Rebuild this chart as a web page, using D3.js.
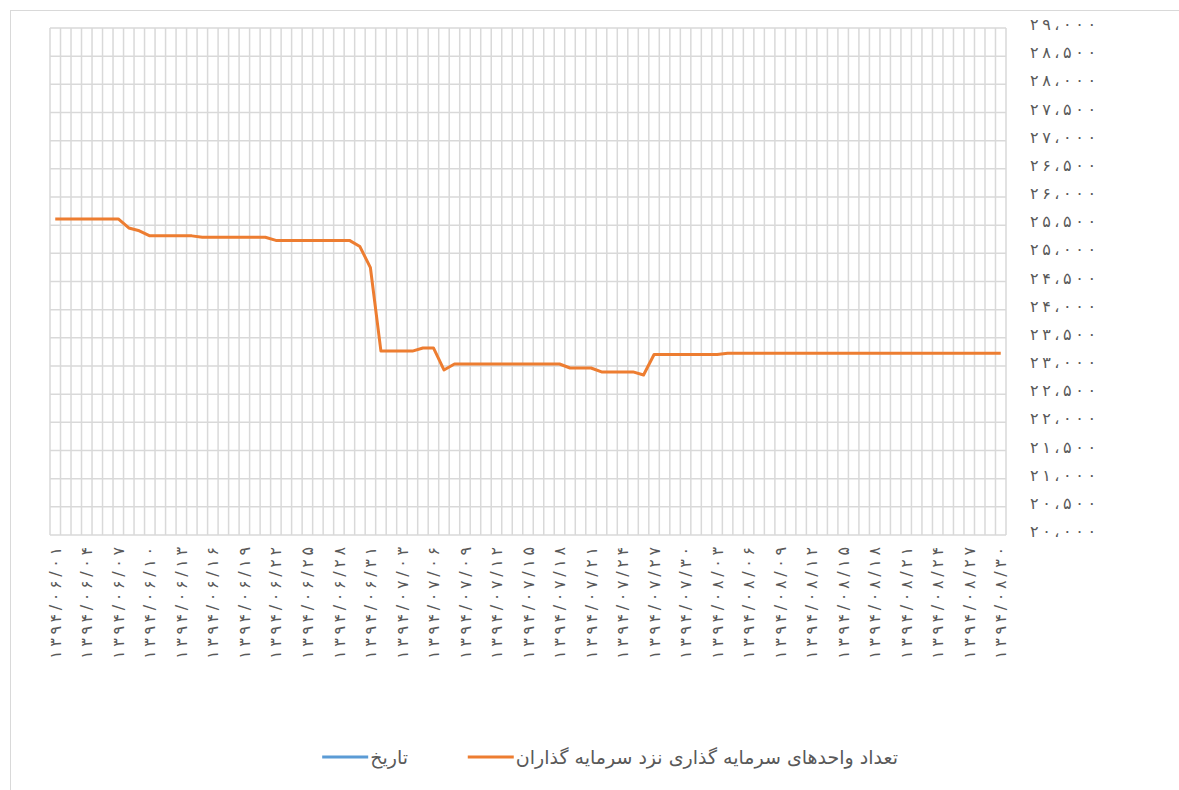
<!DOCTYPE html>
<html>
<head>
<meta charset="utf-8">
<script src="https://cdn.jsdelivr.net/npm/d3@7"></script>
<style>
  body { margin: 0; background: #fff; }
  text { font-family: "DejaVu Sans", sans-serif; }
</style>
</head>
<body>
<svg id="chart"></svg>
<script>
// categories (one per day, 1394/06/01 .. 1394/08/30)
var dates = [
  "1394/06/01","1394/06/02","1394/06/03","1394/06/04","1394/06/05","1394/06/06","1394/06/07","1394/06/08",
  "1394/06/09","1394/06/10","1394/06/11","1394/06/12","1394/06/13","1394/06/14","1394/06/15","1394/06/16",
  "1394/06/17","1394/06/18","1394/06/19","1394/06/20","1394/06/21","1394/06/22","1394/06/23","1394/06/24",
  "1394/06/25","1394/06/26","1394/06/27","1394/06/28","1394/06/29","1394/06/30","1394/06/31",
  "1394/07/01","1394/07/02","1394/07/03","1394/07/04","1394/07/05","1394/07/06","1394/07/07","1394/07/08",
  "1394/07/09","1394/07/10","1394/07/11","1394/07/12","1394/07/13","1394/07/14","1394/07/15","1394/07/16",
  "1394/07/17","1394/07/18","1394/07/19","1394/07/20","1394/07/21","1394/07/22","1394/07/23","1394/07/24",
  "1394/07/25","1394/07/26","1394/07/27","1394/07/28","1394/07/29","1394/07/30",
  "1394/08/01","1394/08/02","1394/08/03","1394/08/04","1394/08/05","1394/08/06","1394/08/07","1394/08/08",
  "1394/08/09","1394/08/10","1394/08/11","1394/08/12","1394/08/13","1394/08/14","1394/08/15","1394/08/16",
  "1394/08/17","1394/08/18","1394/08/19","1394/08/20","1394/08/21","1394/08/22","1394/08/23","1394/08/24",
  "1394/08/25","1394/08/26","1394/08/27","1394/08/28","1394/08/29","1394/08/30"
];

// number of investment units held by investors
var units = [
  25610,25610,25610,25610,25610,25610,25610,25450,25400,25310,
  25310,25310,25310,25310,25285,25285,25285,25285,25285,25285,
  25285,25230,25230,25230,25230,25230,25230,25230,25230,25120,
  24745,23265,23265,23265,23265,23320,23320,22930,23035,23035,
  23035,23035,23035,23035,23035,23035,23035,23035,23035,22965,
  22965,22965,22895,22895,22895,22895,22840,23205,23205,23205,
  23205,23205,23205,23205,23225,23225,23225,23225,23225,23225,
  23225,23225,23225,23225,23225,23225,23225,23225,23225,23225,
  23225,23225,23225,23225,23225,23225,23225,23225,23225,23225,
  23225
];

var yTicks = [20000,20500,21000,21500,22000,22500,23000,23500,24000,24500,
              25000,25500,26000,26500,27000,27500,28000,28500,29000];

var seriesNames = ["تاریخ", "تعداد واحدهای سرمایه گذاری نزد سرمایه گذاران"];
var seriesColors = ["#5B9BD5", "#ED7D31"];

var W = 1179, H = 790;
var plot = {left: 50, right: 1006, top: 28, bottom: 535};

var svg = d3.select("#chart").attr("width", W).attr("height", H);

// outer chart frame
svg.append("rect")
  .attr("x", 10.5).attr("y", 10.5)
  .attr("width", W).attr("height", H)
  .attr("fill", "none").attr("stroke", "#d9d9d9");

var persian = "۰۱۲۳۴۵۶۷۸۹";
function toFa(s) {
  return String(s).replace(/[0-9]/g, function(c) { return persian[+c]; });
}

var x = d3.scaleBand()
  .domain(dates)
  .range([plot.left, plot.right])
  .padding(0);

var y = d3.scaleLinear()
  .domain([20000, 29000])
  .range([plot.bottom, plot.top]);

// gridlines
var grid = svg.append("g").attr("stroke", "#d9d9d9").attr("stroke-width", 1.5);
grid.selectAll(".hg")
  .data(yTicks)
  .enter().append("line")
  .attr("x1", plot.left).attr("x2", plot.right)
  .attr("y1", function(d) { return y(d); })
  .attr("y2", function(d) { return y(d); });

var bounds = dates.map(function(d) { return x(d); }).concat([plot.right]);
grid.selectAll(".vg")
  .data(bounds)
  .enter().append("line")
  .attr("x1", function(d) { return d; }).attr("x2", function(d) { return d; })
  .attr("y1", plot.top).attr("y2", plot.bottom);

// y axis on the right
var fmt = d3.format(",");
var yAxis = svg.append("g")
  .attr("transform", "translate(" + plot.right + ",0)")
  .call(d3.axisRight(y).tickValues(yTicks).tickSize(0).tickPadding(24)
    .tickFormat(function(d) { return toFa(fmt(d)).replace(/,/g, "،"); }));
yAxis.select(".domain").remove();
yAxis.selectAll("text")
  .attr("direction", "ltr")
  .attr("dy", "0.1em")
  .attr("textLength", 66)
  .attr("lengthAdjust", "spacing")
  .style("font-family", "'DejaVu Sans', sans-serif")
  .style("font-size", "16px")
  .attr("fill", "#595959");

// x axis labels (every 3rd day)
var xAxis = svg.append("g")
  .attr("transform", "translate(0," + plot.bottom + ")")
  .call(d3.axisBottom(x)
    .tickValues(dates.filter(function(d, i) { return i % 3 === 0; }))
    .tickSize(0)
    .tickFormat(function(d) { return toFa(d); }));
xAxis.select(".domain").remove();
xAxis.selectAll("text")
  .attr("transform", "rotate(-90)")
  .attr("x", -12)
  .attr("y", 0)
  .attr("dy", "0.35em")
  .attr("direction", "ltr")
  .attr("textLength", 112)
  .attr("lengthAdjust", "spacing")
  .style("text-anchor", "end")
  .style("font-family", "'DejaVu Sans', sans-serif")
  .style("font-size", "16px")
  .attr("fill", "#595959");

// the line
var line = d3.line()
  .x(function(d, i) { return x(dates[i]) + x.bandwidth() / 2; })
  .y(function(d) { return y(d); });

svg.append("path")
  .datum(units)
  .attr("d", line)
  .attr("fill", "none")
  .attr("stroke", seriesColors[1])
  .attr("stroke-width", 3)
  .attr("stroke-linejoin", "round");

// legend: text right edge fixed, swatch line attached to its left
var legend = svg.append("g").attr("transform", "translate(0,757)");
var items = [
  {name: seriesNames[0], color: seriesColors[0], tx: 408},
  {name: seriesNames[1], color: seriesColors[1], tx: 898}
];
items.forEach(function(it) {
  var t = legend.append("text")
    .attr("x", it.tx).attr("y", 0).attr("dy", "0.35em")
    .attr("text-anchor", "end")
    .style("font-family", "'DejaVu Sans', sans-serif")
    .style("font-size", "19px")
    .attr("fill", "#595959")
    .text(it.name);
  var start = it.tx - t.node().getComputedTextLength();
  legend.append("line")
    .attr("x1", start - 48).attr("x2", start - 2)
    .attr("y1", 0).attr("y2", 0)
    .attr("stroke", it.color).attr("stroke-width", 3);
});
</script>
</body>
</html>
